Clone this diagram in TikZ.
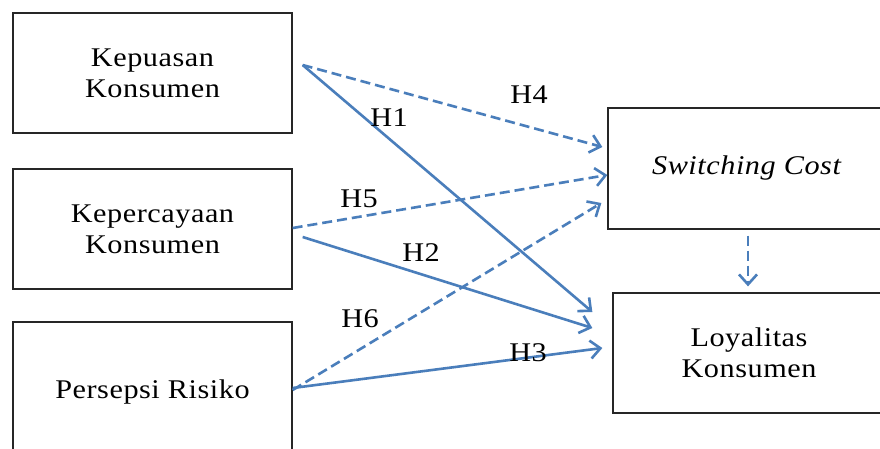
\documentclass[tikz,border=0pt]{standalone}
\usepackage{fontspec}
\setmainfont{Liberation Serif}[FakeStretch=1.12,LetterSpace=2]
\usetikzlibrary{arrows.meta}
\definecolor{lineblue}{HTML}{4A7EBB}
\tikzset{
  box/.style={draw=black!85, line width=1.3pt, rectangle, align=center, inner sep=0pt,
    font=\fontsize{27}{31}\selectfont},
  hyp/.style={inner sep=0pt, font=\fontsize{27}{31}\selectfont},
  conn/.style={draw=lineblue, line width=2.6pt, -{Straight Barb[length=10pt,width=18pt,line width=2.6pt]}},
  dconn/.style={conn, dash pattern=on 10pt off 5pt},
}
\begin{document}
\begin{tikzpicture}[x=1pt,y=-1pt]
\useasboundingbox (0,0) rectangle (880,448);
\clip (0,0) rectangle (880,448);
\fill[white] (0,0) rectangle (880,448);
% boxes
\node[box, minimum width=279pt, minimum height=120pt] (k1) at (152.5,73) {Kepuasan\\Konsumen};
\node[box, minimum width=279pt, minimum height=120pt] (k2) at (152.5,229) {Kepercayaan\\Konsumen};
\node[box, minimum width=279pt, minimum height=140pt] (k3) at (152.5,392) {Persepsi Risiko};
\node[box, minimum width=277pt, minimum height=121pt] (sc) at (746.5,168.5) {\itshape Switching Cost};
\node[box, minimum width=272pt, minimum height=120pt] (lk) at (749,353) {Loyalitas\\Konsumen};
% connectors
\draw[dconn] ([shift={(10,-8)}]k1.east) -- ([shift={(-5,-21.5)}]sc.west);
\draw[conn]  ([shift={(10,-8)}]k1.east) -- ([shift={(-20,-41)}]lk.west);
\draw[dconn] ([shift={(0,-1)}]k2.east) -- ([shift={(0,6.5)}]sc.west);
\draw[conn]  ([shift={(10,8)}]k2.east) -- ([shift={(-20,-25)}]lk.west);
\draw[dconn] ([shift={(0,-2)}]k3.east) -- ([shift={(-6,34.5)}]sc.west);
\draw[conn]  ([shift={(0,-4)}]k3.east) -- ([shift={(-10,-5)}]lk.west);
\draw[dconn] ([shift={(1.5,6)}]sc.south) -- ([shift={(-1,-6)}]lk.north);
% labels
\node[hyp] (h4) at (529,95) {H4};
\node[hyp] (h1) at (389,117.5) {H1};
\node[hyp] (h5) at (359,199) {H5};
\node[hyp] (h2) at (421,252.5) {H2};
\node[hyp] (h6) at (360,319) {H6};
\node[hyp] (h3) at (528,352.5) {H3};
\end{tikzpicture}
\end{document}
